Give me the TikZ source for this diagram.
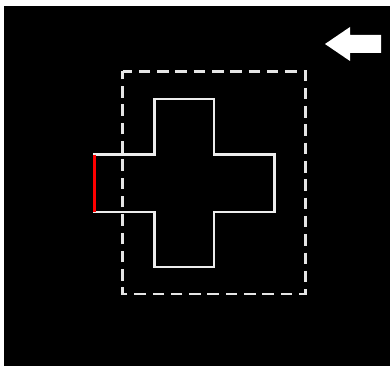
\documentclass[tikz,border=0pt]{standalone}
\begin{document}
\begin{tikzpicture}[x=1pt,y=-1pt,
  outline/.style={draw=white!93!black,line width=2.2pt},
  guide/.style={draw=white!90!black,line width=2.2pt,dash pattern=on 11.5pt off 6.8pt,dash phase=2pt},
  edge/.style={draw=red,line width=2.2pt}]
\useasboundingbox (0,0) rectangle (390,366);
\fill[white] (0,0) rectangle (390,366);
\fill[black] (4,6) rectangle (390,366);
% dashed frame
\draw[guide] (122.5,71.5) -- (305.5,71.5) -- (305.5,294) -- (122.5,294) -- cycle;
% cross
\draw[outline,line join=miter] (154.5,99) -- (214,99) -- (214,154.5) -- (274.5,154.5) -- (274.5,212) -- (214,212) -- (214,267) -- (154.5,267) -- (154.5,212) -- (94.5,212) -- (94.5,154.5) -- (154.5,154.5) -- cycle;
% red edge
\coordinate (rt) at (94.5,154.5);
\coordinate (rb) at (94.5,212);
\draw[edge] (rt) -- (rb);
% arrow
\fill[white] (325,44) -- (350,27) -- (350,35) -- (381,35) -- (381,53) -- (350,53) -- (350,61) -- cycle;
\end{tikzpicture}
\end{document}
